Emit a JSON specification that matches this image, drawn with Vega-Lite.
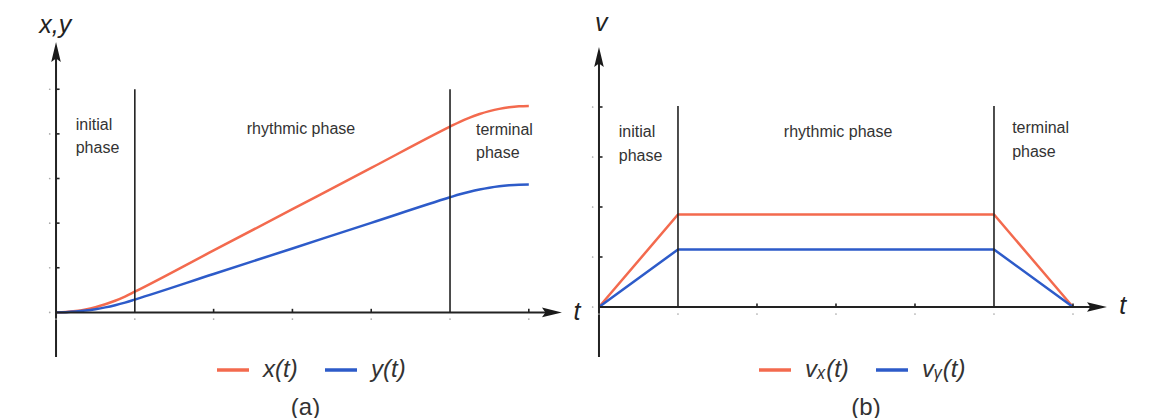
{
  "$schema": "https://vega.github.io/schema/vega-lite/v6.json",
  "padding": 0,
  "spacing": 0,
  "background": "white",
  "config": {"view": {"stroke": null}, "font": "Liberation Sans"},
  "datasets": {
    "curvesA": [
      {"t": 0, "val": 0, "series": "x(t)"},
      {"t": 0.125, "val": 0.0072, "series": "x(t)"},
      {"t": 0.25, "val": 0.0289, "series": "x(t)"},
      {"t": 0.375, "val": 0.065, "series": "x(t)"},
      {"t": 0.5, "val": 0.1156, "series": "x(t)"},
      {"t": 0.625, "val": 0.1807, "series": "x(t)"},
      {"t": 0.75, "val": 0.26, "series": "x(t)"},
      {"t": 0.875, "val": 0.354, "series": "x(t)"},
      {"t": 1, "val": 0.4625, "series": "x(t)"},
      {"t": 2, "val": 1.3875, "series": "x(t)"},
      {"t": 3, "val": 2.3125, "series": "x(t)"},
      {"t": 4, "val": 3.2375, "series": "x(t)"},
      {"t": 5, "val": 4.1625, "series": "x(t)"},
      {"t": 5.125, "val": 4.271, "series": "x(t)"},
      {"t": 5.25, "val": 4.365, "series": "x(t)"},
      {"t": 5.375, "val": 4.444, "series": "x(t)"},
      {"t": 5.5, "val": 4.509, "series": "x(t)"},
      {"t": 5.625, "val": 4.56, "series": "x(t)"},
      {"t": 5.75, "val": 4.596, "series": "x(t)"},
      {"t": 5.875, "val": 4.618, "series": "x(t)"},
      {"t": 6, "val": 4.625, "series": "x(t)"},
      {"t": 0, "val": 0, "series": "y(t)"},
      {"t": 0.125, "val": 0.0045, "series": "y(t)"},
      {"t": 0.25, "val": 0.0179, "series": "y(t)"},
      {"t": 0.375, "val": 0.0403, "series": "y(t)"},
      {"t": 0.5, "val": 0.0716, "series": "y(t)"},
      {"t": 0.625, "val": 0.1119, "series": "y(t)"},
      {"t": 0.75, "val": 0.1612, "series": "y(t)"},
      {"t": 0.875, "val": 0.2193, "series": "y(t)"},
      {"t": 1, "val": 0.2865, "series": "y(t)"},
      {"t": 2, "val": 0.8595, "series": "y(t)"},
      {"t": 3, "val": 1.4325, "series": "y(t)"},
      {"t": 4, "val": 2.0055, "series": "y(t)"},
      {"t": 5, "val": 2.5785, "series": "y(t)"},
      {"t": 5.125, "val": 2.646, "series": "y(t)"},
      {"t": 5.25, "val": 2.704, "series": "y(t)"},
      {"t": 5.375, "val": 2.753, "series": "y(t)"},
      {"t": 5.5, "val": 2.793, "series": "y(t)"},
      {"t": 5.625, "val": 2.825, "series": "y(t)"},
      {"t": 5.75, "val": 2.847, "series": "y(t)"},
      {"t": 5.875, "val": 2.861, "series": "y(t)"},
      {"t": 6, "val": 2.865, "series": "y(t)"}
    ],
    "curvesB": [
      {"t": 0, "val": 0, "series": "vₓ(t)"},
      {"t": 1, "val": 1.85, "series": "vₓ(t)"},
      {"t": 5, "val": 1.85, "series": "vₓ(t)"},
      {"t": 6, "val": 0, "series": "vₓ(t)"},
      {"t": 0, "val": 0, "series": "vᵧ(t)"},
      {"t": 1, "val": 1.15, "series": "vᵧ(t)"},
      {"t": 5, "val": 1.15, "series": "vᵧ(t)"},
      {"t": 6, "val": 0, "series": "vᵧ(t)"}
    ],
    "rulesA": [
      {"t": 0, "t2": 0, "val": -1, "val2": 5.76, "kind": "axis"},
      {"t": 0, "t2": 6.28, "val": 0, "val2": 0, "kind": "axis"},
      {"t": 1, "t2": 1, "val": 0, "val2": 5, "kind": "phase"},
      {"t": 5, "t2": 5, "val": 0, "val2": 5, "kind": "phase"},
      {"t": 2, "t2": 2, "val": 0, "val2": 0.08, "kind": "tick"},
      {"t": 3, "t2": 3, "val": 0, "val2": 0.08, "kind": "tick"},
      {"t": 4, "t2": 4, "val": 0, "val2": 0.08, "kind": "tick"},
      {"t": 6, "t2": 6, "val": 0, "val2": 0.08, "kind": "tick"},
      {"t": 0, "t2": 0.045, "val": 1, "val2": 1, "kind": "tick"},
      {"t": 0, "t2": 0.045, "val": 2, "val2": 2, "kind": "tick"},
      {"t": 0, "t2": 0.045, "val": 3, "val2": 3, "kind": "tick"},
      {"t": 0, "t2": 0.045, "val": 4, "val2": 4, "kind": "tick"},
      {"t": 0, "t2": 0.045, "val": 5, "val2": 5, "kind": "tick"}
    ],
    "rulesB": [
      {"t": 0, "t2": 0, "val": -1, "val2": 4.9, "kind": "axis"},
      {"t": 0, "t2": 6.29, "val": 0, "val2": 0, "kind": "axis"},
      {"t": 1, "t2": 1, "val": 0, "val2": 4.02, "kind": "phase"},
      {"t": 5, "t2": 5, "val": 0, "val2": 4.02, "kind": "phase"},
      {"t": 2, "t2": 2, "val": 0, "val2": 0.07, "kind": "tick"},
      {"t": 3, "t2": 3, "val": 0, "val2": 0.07, "kind": "tick"},
      {"t": 4, "t2": 4, "val": 0, "val2": 0.07, "kind": "tick"},
      {"t": 6, "t2": 6, "val": 0, "val2": 0.07, "kind": "tick"},
      {"t": 0, "t2": 0.045, "val": 1, "val2": 1, "kind": "tick"},
      {"t": 0, "t2": 0.045, "val": 2, "val2": 2, "kind": "tick"},
      {"t": 0, "t2": 0.045, "val": 3, "val2": 3, "kind": "tick"},
      {"t": 0, "t2": 0.045, "val": 4, "val2": 4, "kind": "tick"}
    ],
    "dotsA": [
      {"t": 0, "val": -0.15}, {"t": 1, "val": -0.15}, {"t": 2, "val": -0.15}, {"t": 3, "val": -0.15}, {"t": 4, "val": -0.15}, {"t": 5, "val": -0.15}, {"t": 6, "val": -0.15},
      {"t": -0.08, "val": 0}, {"t": -0.08, "val": 1}, {"t": -0.08, "val": 2}, {"t": -0.08, "val": 3}, {"t": -0.08, "val": 4}, {"t": -0.08, "val": 5}
    ],
    "dotsB": [
      {"t": 0, "val": -0.14}, {"t": 1, "val": -0.14}, {"t": 2, "val": -0.14}, {"t": 3, "val": -0.14}, {"t": 4, "val": -0.14}, {"t": 5, "val": -0.14}, {"t": 6, "val": -0.14},
      {"t": -0.08, "val": 0}, {"t": -0.08, "val": 1}, {"t": -0.08, "val": 2}, {"t": -0.08, "val": 3}, {"t": -0.08, "val": 4}
    ],
    "arrowsA": [
      {"t": 0, "val": 6.06, "dir": "up"},
      {"t": 6.42, "val": 0, "dir": "right"}
    ],
    "arrowsB": [
      {"t": 0, "val": 5.2, "dir": "up"},
      {"t": 6.43, "val": 0, "dir": "right"}
    ],
    "notesA": [
      {"t": 0.25, "val": 4.2, "text": "initial"},
      {"t": 0.25, "val": 3.68, "text": "phase"},
      {"t": 2.42, "val": 4.11, "text": "rhythmic phase"},
      {"t": 5.33, "val": 4.09, "text": "terminal"},
      {"t": 5.33, "val": 3.57, "text": "phase"}
    ],
    "notesB": [
      {"t": 0.25, "val": 3.5, "text": "initial"},
      {"t": 0.25, "val": 3.02, "text": "phase"},
      {"t": 2.34, "val": 3.5, "text": "rhythmic phase"},
      {"t": 5.23, "val": 3.58, "text": "terminal"},
      {"t": 5.23, "val": 3.1, "text": "phase"}
    ],
    "titlesA": [
      {"t": -0.01, "val": 6.43, "text": "x,y"},
      {"t": 6.61, "val": 0, "text": "t"}
    ],
    "titlesB": [
      {"t": 0.03, "val": 5.68, "text": "v"},
      {"t": 6.63, "val": 0.03, "text": "t"}
    ]
  },
  "hconcat": [
    {
      "width": 585,
      "height": 357,
      "title": {"text": "(a)", "orient": "bottom", "anchor": "middle", "frame": "group", "dx": 13, "offset": 14, "fontSize": 24, "fontWeight": "normal", "font": "Liberation Sans", "color": "#333333"},
      "layer": [
        {
          "data": {"name": "curvesA"},
          "mark": {"type": "line", "strokeWidth": 2.5, "interpolate": "monotone"},
          "encoding": {
            "x": {"field": "t", "type": "quantitative", "scale": {"domain": [-0.711, 6.713], "nice": false, "zero": false}, "axis": null},
            "y": {"field": "val", "type": "quantitative", "scale": {"domain": [-1, 7], "nice": false, "zero": false}, "axis": null},
            "color": {"field": "series", "type": "nominal", "scale": {"domain": ["x(t)", "y(t)"], "range": ["#f36a4e", "#2d5bc9"]},
              "legend": {"orient": "none", "legendX": 215, "legendY": 352, "direction": "horizontal", "title": null, "symbolType": "stroke", "symbolSize": 1024, "symbolStrokeWidth": 3.5, "labelFontSize": 24, "labelFontStyle": "italic", "labelFont": "Liberation Sans", "labelColor": "#333333", "labelOffset": 12, "columnPadding": 20, "padding": 0, "labelLimit": 200}}
          }
        },
        {
          "data": {"name": "rulesA"},
          "transform": [{"filter": "datum.kind === 'axis'"}],
          "mark": {"type": "rule", "strokeWidth": 2, "color": "#222222"},
          "encoding": {
            "x": {"field": "t", "type": "quantitative", "scale": {"domain": [-0.711, 6.713], "nice": false, "zero": false}, "axis": null},
            "x2": {"field": "t2"},
            "y": {"field": "val", "type": "quantitative", "scale": {"domain": [-1, 7], "nice": false, "zero": false}, "axis": null},
            "y2": {"field": "val2"}
          }
        },
        {
          "data": {"name": "rulesA"},
          "transform": [{"filter": "datum.kind !== 'axis'"}],
          "mark": {"type": "rule", "strokeWidth": 1.6, "color": "#222222"},
          "encoding": {
            "x": {"field": "t", "type": "quantitative", "scale": {"domain": [-0.711, 6.713], "nice": false, "zero": false}, "axis": null},
            "x2": {"field": "t2"},
            "y": {"field": "val", "type": "quantitative", "scale": {"domain": [-1, 7], "nice": false, "zero": false}, "axis": null},
            "y2": {"field": "val2"}
          }
        },
        {
          "data": {"name": "dotsA"},
          "mark": {"type": "point", "filled": true, "size": 3, "color": "#aaaaaa", "opacity": 1},
          "encoding": {
            "x": {"field": "t", "type": "quantitative", "scale": {"domain": [-0.711, 6.713], "nice": false, "zero": false}, "axis": null},
            "y": {"field": "val", "type": "quantitative", "scale": {"domain": [-1, 7], "nice": false, "zero": false}, "axis": null}
          }
        },
        {
          "data": {"name": "arrowsA"},
          "mark": {"type": "point", "filled": true, "size": 520, "color": "#1a1a1a", "opacity": 1, "strokeWidth": 0},
          "encoding": {
            "x": {"field": "t", "type": "quantitative", "scale": {"domain": [-0.711, 6.713], "nice": false, "zero": false}, "axis": null},
            "y": {"field": "val", "type": "quantitative", "scale": {"domain": [-1, 7], "nice": false, "zero": false}, "axis": null},
            "shape": {"field": "dir", "type": "nominal", "scale": {"domain": ["up", "right"], "range": ["M0,0L0.42,1.75L0,1.45L-0.42,1.75Z", "M0,0L-1.75,-0.42L-1.45,0L-1.75,0.42Z"]}, "legend": null}
          }
        },
        {
          "data": {"name": "notesA"},
          "mark": {"type": "text", "align": "left", "baseline": "middle", "fontSize": 16, "font": "Liberation Sans", "color": "#333333"},
          "encoding": {
            "x": {"field": "t", "type": "quantitative", "scale": {"domain": [-0.711, 6.713], "nice": false, "zero": false}, "axis": null},
            "y": {"field": "val", "type": "quantitative", "scale": {"domain": [-1, 7], "nice": false, "zero": false}, "axis": null},
            "text": {"field": "text"}
          }
        },
        {
          "data": {"name": "titlesA"},
          "mark": {"type": "text", "align": "center", "baseline": "middle", "fontSize": 25, "fontStyle": "italic", "font": "Liberation Sans", "color": "#222222"},
          "encoding": {
            "x": {"field": "t", "type": "quantitative", "scale": {"domain": [-0.711, 6.713], "nice": false, "zero": false}, "axis": null},
            "y": {"field": "val", "type": "quantitative", "scale": {"domain": [-1, 7], "nice": false, "zero": false}, "axis": null},
            "text": {"field": "text"}
          }
        }
      ]
    },
    {
      "width": 576,
      "height": 357,
      "title": {"text": "(b)", "orient": "bottom", "anchor": "middle", "frame": "group", "dx": -7, "offset": 14, "fontSize": 24, "fontWeight": "normal", "font": "Liberation Sans", "color": "#333333"},
      "layer": [
        {
          "data": {"name": "curvesB"},
          "mark": {"type": "line", "strokeWidth": 2.5},
          "encoding": {
            "x": {"field": "t", "type": "quantitative", "scale": {"domain": [-0.177, 7.114], "nice": false, "zero": false}, "axis": null},
            "y": {"field": "val", "type": "quantitative", "scale": {"domain": [-1, 6.14], "nice": false, "zero": false}, "axis": null},
            "color": {"field": "series", "type": "nominal", "scale": {"domain": ["vₓ(t)", "vᵧ(t)"], "range": ["#f36a4e", "#2d5bc9"]},
              "legend": {"orient": "none", "legendX": 172, "legendY": 352, "direction": "horizontal", "title": null, "symbolType": "stroke", "symbolSize": 1024, "symbolStrokeWidth": 3.5, "labelFontSize": 24, "labelFontStyle": "italic", "labelFont": "Liberation Sans", "labelColor": "#333333", "labelOffset": 12, "columnPadding": 20, "padding": 0, "labelLimit": 200}}
          }
        },
        {
          "data": {"name": "rulesB"},
          "transform": [{"filter": "datum.kind === 'axis'"}],
          "mark": {"type": "rule", "strokeWidth": 2, "color": "#222222"},
          "encoding": {
            "x": {"field": "t", "type": "quantitative", "scale": {"domain": [-0.177, 7.114], "nice": false, "zero": false}, "axis": null},
            "x2": {"field": "t2"},
            "y": {"field": "val", "type": "quantitative", "scale": {"domain": [-1, 6.14], "nice": false, "zero": false}, "axis": null},
            "y2": {"field": "val2"}
          }
        },
        {
          "data": {"name": "rulesB"},
          "transform": [{"filter": "datum.kind !== 'axis'"}],
          "mark": {"type": "rule", "strokeWidth": 1.6, "color": "#222222"},
          "encoding": {
            "x": {"field": "t", "type": "quantitative", "scale": {"domain": [-0.177, 7.114], "nice": false, "zero": false}, "axis": null},
            "x2": {"field": "t2"},
            "y": {"field": "val", "type": "quantitative", "scale": {"domain": [-1, 6.14], "nice": false, "zero": false}, "axis": null},
            "y2": {"field": "val2"}
          }
        },
        {
          "data": {"name": "dotsB"},
          "mark": {"type": "point", "filled": true, "size": 3, "color": "#aaaaaa", "opacity": 1},
          "encoding": {
            "x": {"field": "t", "type": "quantitative", "scale": {"domain": [-0.177, 7.114], "nice": false, "zero": false}, "axis": null},
            "y": {"field": "val", "type": "quantitative", "scale": {"domain": [-1, 6.14], "nice": false, "zero": false}, "axis": null}
          }
        },
        {
          "data": {"name": "arrowsB"},
          "mark": {"type": "point", "filled": true, "size": 520, "color": "#1a1a1a", "opacity": 1, "strokeWidth": 0},
          "encoding": {
            "x": {"field": "t", "type": "quantitative", "scale": {"domain": [-0.177, 7.114], "nice": false, "zero": false}, "axis": null},
            "y": {"field": "val", "type": "quantitative", "scale": {"domain": [-1, 6.14], "nice": false, "zero": false}, "axis": null},
            "shape": {"field": "dir", "type": "nominal", "scale": {"domain": ["up", "right"], "range": ["M0,0L0.42,1.75L0,1.45L-0.42,1.75Z", "M0,0L-1.75,-0.42L-1.45,0L-1.75,0.42Z"]}, "legend": null}
          }
        },
        {
          "data": {"name": "notesB"},
          "mark": {"type": "text", "align": "left", "baseline": "middle", "fontSize": 16, "font": "Liberation Sans", "color": "#333333"},
          "encoding": {
            "x": {"field": "t", "type": "quantitative", "scale": {"domain": [-0.177, 7.114], "nice": false, "zero": false}, "axis": null},
            "y": {"field": "val", "type": "quantitative", "scale": {"domain": [-1, 6.14], "nice": false, "zero": false}, "axis": null},
            "text": {"field": "text"}
          }
        },
        {
          "data": {"name": "titlesB"},
          "mark": {"type": "text", "align": "center", "baseline": "middle", "fontSize": 25, "fontStyle": "italic", "font": "Liberation Sans", "color": "#222222"},
          "encoding": {
            "x": {"field": "t", "type": "quantitative", "scale": {"domain": [-0.177, 7.114], "nice": false, "zero": false}, "axis": null},
            "y": {"field": "val", "type": "quantitative", "scale": {"domain": [-1, 6.14], "nice": false, "zero": false}, "axis": null},
            "text": {"field": "text"}
          }
        }
      ]
    }
  ],
  "resolve": {"scale": {"color": "independent", "shape": "independent", "x": "independent", "y": "independent"}, "legend": {"color": "independent", "shape": "independent"}}
}
